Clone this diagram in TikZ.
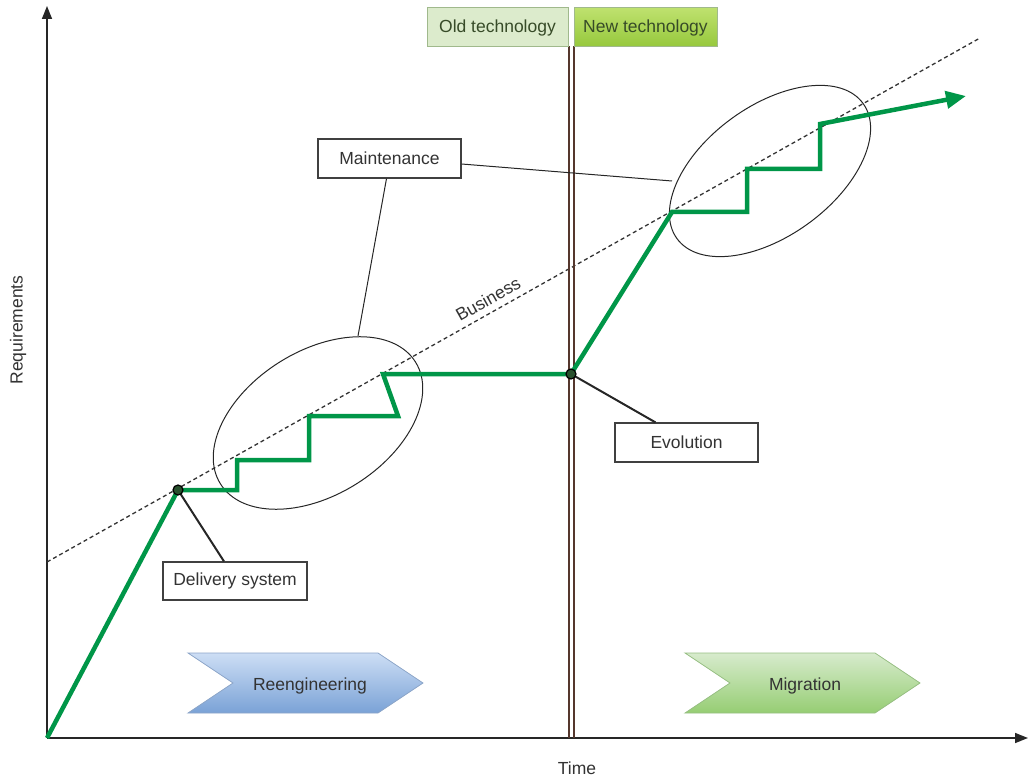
\documentclass[tikz,border=0pt]{standalone}
\usepackage{fontspec}
\setmainfont{Liberation Sans}
\usetikzlibrary{arrows.meta}

\definecolor{growthgreen}{RGB}{0,150,72}
\definecolor{dotgreen}{RGB}{40,80,45}
\definecolor{splitbrown}{RGB}{85,55,45}
\definecolor{oldfill}{RGB}{220,235,204}
\definecolor{newtop}{RGB}{190,225,110}
\definecolor{newbottom}{RGB}{150,200,60}
\definecolor{techline}{RGB}{160,185,140}
\definecolor{techtext}{RGB}{55,75,40}
\definecolor{reengtop}{RGB}{205,222,245}
\definecolor{reengbottom}{RGB}{122,162,214}
\definecolor{reengline}{RGB}{140,165,200}
\definecolor{migrtop}{RGB}{215,235,205}
\definecolor{migrbottom}{RGB}{150,205,115}
\definecolor{migrline}{RGB}{150,190,130}

\tikzset{
  label/.style={font=\fontsize{17.5}{20}\selectfont, text=black!80},
  box/.style={label, draw=black!75, line width=1.2pt, fill=white, minimum width=143pt, minimum height=39pt, inner sep=0pt},
  techbox/.style={label, text=techtext, draw=techline, line width=1pt, minimum height=39pt, inner sep=0pt},
  axis/.style={line width=1.5pt, black!85},
  growth/.style={line width=4.5pt, growthgreen, line join=miter},
  pin/.style={line width=2pt, black!85},
  thin line/.style={line width=1pt, black!85},
}

\begin{document}
\begin{tikzpicture}[x=1pt, y=-1pt]
  \useasboundingbox (0,0) rectangle (1028,778);

  % axes
  \coordinate (origin) at (47,738);
  \draw[axis, -{Triangle[length=13pt,width=10pt]}] (origin) -- (47,6);
  \draw[axis, -{Triangle[length=13pt,width=10pt]}] (origin) -- (1028,738);
  \node[label, rotate=90] (req) at (18,330) {Requirements};
  \node[label] (time) at (577,768) {Time};

  % business trend
  \draw[line width=1.3pt, black!80, dash pattern=on 4pt off 3pt] (47,562) -- (980,38);
  \node[label, rotate=29.3, inner sep=1pt] (business) at (488,299) {Business};

  % technology split
  \draw[line width=1.2pt, splitbrown] (569,46) -- (569,738);
  \draw[line width=1.2pt, splitbrown] (574,46) -- (574,738);
  \node[techbox, fill=oldfill, minimum width=141pt] (oldtech) at (497.5,27.5) {Old technology};
  \node[techbox, top color=newtop, bottom color=newbottom, minimum width=143pt] (newtech) at (645.5,27.5) {New technology};

  % phases
  \shade[top color=reengtop, bottom color=reengbottom]
    (188,653) -- (378,653) -- (423,683) -- (378,713) -- (188,713) -- (233,683) -- cycle;
  \draw[line width=0.8pt, reengline]
    (188,653) -- (378,653) -- (423,683) -- (378,713) -- (188,713) -- (233,683) -- cycle;
  \node[label] (reeng) at (310,686) {Reengineering};

  \shade[top color=migrtop, bottom color=migrbottom]
    (685,653) -- (875,653) -- (920,683) -- (875,713) -- (685,713) -- (730,683) -- cycle;
  \draw[line width=0.8pt, migrline]
    (685,653) -- (875,653) -- (920,683) -- (875,713) -- (685,713) -- (730,683) -- cycle;
  \node[label] (migr) at (805,686) {Migration};

  % maintenance ellipses
  \draw[thin line, rotate around={32:(318,423)}] (318,423) ellipse [x radius=115pt, y radius=72pt];
  \draw[thin line, rotate around={36:(770,171)}] (770,171) ellipse [x radius=115pt, y radius=65pt];
  \coordinate (ellLtop) at (358,336);
  \coordinate (ellRleft) at (672,181);

  % growth path
  \coordinate (delivpt) at (178,490);
  \coordinate (evolpt) at (571,374);
  \draw[growth, -{Triangle[length=20pt,width=17pt]}] (origin) -- (delivpt)
    -- (237,490) -- (237,460) -- (309,460) -- (309,416) -- (398,416) -- (383,374)
    -- (evolpt) -- (672,212) -- (747,212) -- (747,169) -- (820,169) -- (820,124) -- (966,96);

  % callouts
  \node[box, minimum width=144pt, minimum height=38pt] (deliv) at (235,581) {Delivery system};
  \node[box] (evol) at (686.5,442.5) {Evolution};
  \node[box] (maint) at (389.5,158.5) {Maintenance};
  \draw[pin] (delivpt) -- ([xshift=-11pt]deliv.north);
  \draw[pin] (evolpt) -- ([xshift=-31pt]evol.north);
  \draw[thin line] ([xshift=-3pt]maint.south) -- (ellLtop);
  \draw[thin line] ([yshift=-5.5pt]maint.east) -- (ellRleft);

  \filldraw[fill=dotgreen, draw=black, line width=1.2pt] (delivpt) circle (5pt);
  \filldraw[fill=dotgreen, draw=black, line width=1.2pt] (evolpt) circle (5pt);
\end{tikzpicture}
\end{document}
